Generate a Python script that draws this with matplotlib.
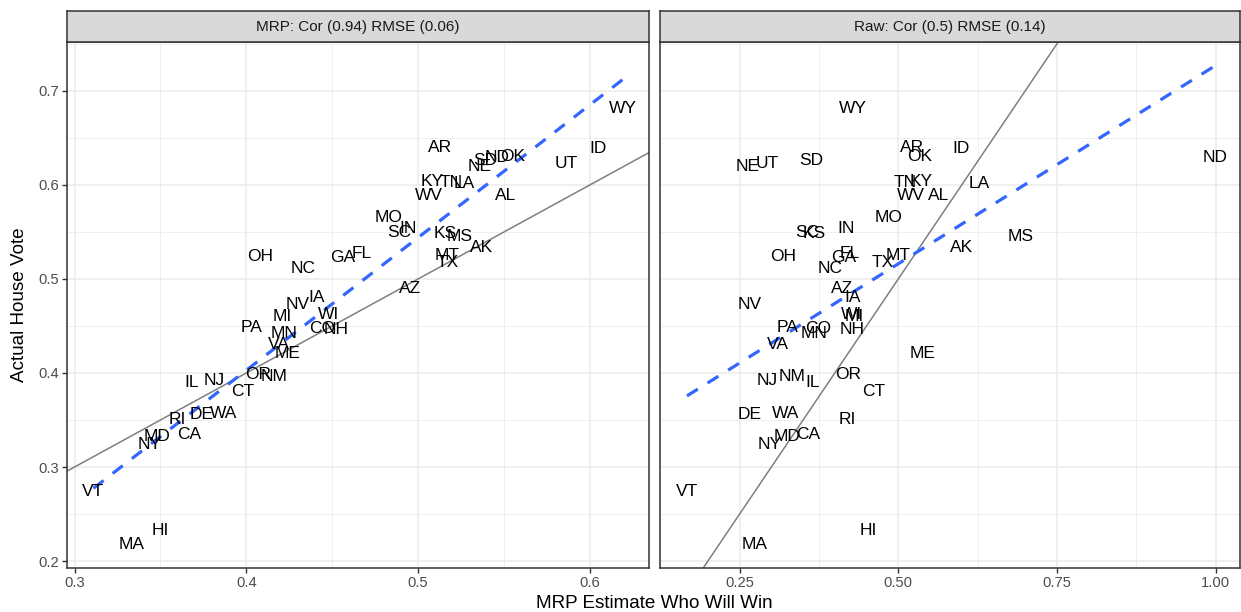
import numpy as np
import matplotlib
matplotlib.use("Agg")
import matplotlib.pyplot as plt

plt.rcParams['font.family'] = ['Liberation Sans', 'DejaVu Sans']

states = ["WY", "ID", "UT", "AR", "SD", "ND", "OK", "NE", "KY", "TN",
          "LA", "WV", "AL", "MO", "IN", "SC", "KS", "MS", "AK", "MT",
          "TX", "GA", "FL", "OH", "NC", "AZ", "IA", "NV", "WI", "MI",
          "PA", "CO", "NH", "MN", "VA", "ME", "OR", "NM", "IL", "NJ",
          "CT", "WA", "DE", "RI", "CA", "MD", "NY", "VT", "HI", "MA"]

actual = [0.681, 0.639, 0.623, 0.640, 0.626, 0.629, 0.630, 0.620, 0.604, 0.603,
          0.602, 0.589, 0.589, 0.565, 0.554, 0.549, 0.548, 0.545, 0.533, 0.525,
          0.517, 0.523, 0.527, 0.524, 0.511, 0.490, 0.480, 0.473, 0.462, 0.460,
          0.448, 0.447, 0.446, 0.442, 0.430, 0.421, 0.398, 0.396, 0.390, 0.392,
          0.380, 0.357, 0.356, 0.350, 0.335, 0.332, 0.324, 0.274, 0.233, 0.218]

mrp = [0.619, 0.605, 0.586, 0.513, 0.539, 0.546, 0.555, 0.536, 0.508, 0.519,
       0.527, 0.506, 0.551, 0.483, 0.494, 0.489, 0.516, 0.524, 0.537, 0.517,
       0.517, 0.456, 0.467, 0.408, 0.433, 0.495, 0.441, 0.430, 0.448, 0.421,
       0.403, 0.444, 0.452, 0.422, 0.419, 0.424, 0.407, 0.416, 0.368, 0.381,
       0.398, 0.387, 0.374, 0.360, 0.367, 0.348, 0.344, 0.311, 0.350, 0.333]

raw = [0.428, 0.599, 0.294, 0.522, 0.363, 1.000, 0.533, 0.263, 0.536, 0.511,
       0.627, 0.520, 0.563, 0.484, 0.418, 0.357, 0.368, 0.693, 0.599, 0.500,
       0.475, 0.414, 0.423, 0.319, 0.392, 0.412, 0.428, 0.266, 0.427, 0.430,
       0.325, 0.373, 0.428, 0.368, 0.310, 0.538, 0.421, 0.333, 0.365, 0.294,
       0.462, 0.322, 0.266, 0.420, 0.358, 0.325, 0.297, 0.167, 0.453, 0.274]

panel_titles = ["MRP: Cor (0.94) RMSE (0.06)", "Raw: Cor (0.5) RMSE (0.14)"]
left_xticks = [0.3, 0.4, 0.5, 0.6]
left_xticklabels = ["0.3", "0.4", "0.5", "0.6"]
right_xticks = [0.25, 0.50, 0.75, 1.00]
right_xticklabels = ["0.25", "0.50", "0.75", "1.00"]
yticks = [0.2, 0.3, 0.4, 0.5, 0.6, 0.7]
yticklabels = ["0.2", "0.3", "0.4", "0.5", "0.6", "0.7"]

W, H = 1241, 612
fig = plt.figure(figsize=(W / 100, H / 100), dpi=100)

def rect(x0, y0, x1, y1):
    return [x0 / W, 1 - y1 / H, (x1 - x0) / W, (y1 - y0) / H]

ylim = (0.1926, 0.752)
panels = [
    dict(x=mrp, rect=(67, 42, 649, 568), xlim=(0.2956, 0.6344),
         xt=left_xticks, xtl=left_xticklabels,
         xminor=[0.35, 0.45, 0.55], title=panel_titles[0], showy=True),
    dict(x=raw, rect=(660, 42, 1240, 568), xlim=(0.1245, 1.0385),
         xt=right_xticks, xtl=right_xticklabels,
         xminor=[0.125, 0.375, 0.625, 0.875], title=panel_titles[1], showy=False),
]

grey20 = "#333333"
grey30 = "#4D4D4D"
grid_c = "#EBEBEB"

for p in panels:
    x0, y0, x1, y1 = p["rect"]
    ax = fig.add_axes(rect(x0, y0, x1, y1))
    ax.set_xlim(*p["xlim"])
    ax.set_ylim(*ylim)
    for v in p["xminor"]:
        ax.axvline(v, color=grid_c, lw=0.55, zorder=0)
    for v in [0.25, 0.35, 0.45, 0.55, 0.65, 0.75]:
        ax.axhline(v, color=grid_c, lw=0.55, zorder=0)
    for v in p["xt"]:
        ax.axvline(v, color=grid_c, lw=1.1, zorder=0)
    for v in yticks:
        ax.axhline(v, color=grid_c, lw=1.1, zorder=0)
    xs = np.array(p["x"])
    ys = np.array(actual)
    ax.axline((0, 0), slope=1, color="#7F7F7F", lw=1.1, zorder=2)
    b, a = np.polyfit(xs, ys, 1)
    xx = np.linspace(xs.min(), xs.max(), 80)
    ax.plot(xx, a + b * xx, color="#3366FF", lw=2.3, linestyle=(0, (4, 3.6)),
            zorder=3, solid_capstyle="butt", dash_capstyle="butt")
    for s, xv, yv in zip(states, xs, ys):
        ax.text(xv, yv, s, ha="center", va="center", fontsize=12.5,
                color="black", zorder=4)
    ax.set_xticks(p["xt"])
    ax.set_xticklabels(p["xtl"])
    ax.set_yticks(yticks)
    if p["showy"]:
        ax.set_yticklabels(yticklabels)
    else:
        ax.tick_params(axis="y", left=False, labelleft=False)
    ax.tick_params(axis="both", length=3.8, width=1.0, color=grey20,
                   labelcolor=grey30, labelsize=10.6, pad=2)
    for sp in ax.spines.values():
        sp.set_color(grey20)
        sp.set_linewidth(1.1)
    sax = fig.add_axes(rect(x0, 11, x1, 42))
    sax.set_xticks([])
    sax.set_yticks([])
    sax.set_facecolor("#D9D9D9")
    for sp in sax.spines.values():
        sp.set_color(grey20)
        sp.set_linewidth(1.1)
    sax.text(0.5, 0.5, p["title"], transform=sax.transAxes, ha="center",
             va="center", fontsize=11, color="#1A1A1A")

fig.text(654 / W, 1 - 603 / H, "MRP Estimate Who Will Win", ha="center",
         va="center", fontsize=13.6, color="black")
fig.text(20 / W, 1 - 305 / H, "Actual House Vote", ha="center", va="center",
         rotation=90, fontsize=13.6, color="black")

fig.savefig("out.png", dpi=100)
